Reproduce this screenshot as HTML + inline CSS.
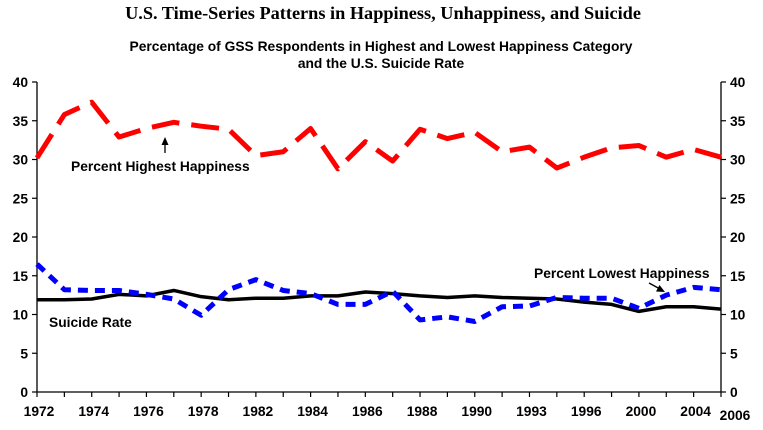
<!DOCTYPE html>
<html><head><meta charset="utf-8"><style>
body{margin:0;background:#fff;width:763px;height:425px;overflow:hidden}
svg text{font-family:"Liberation Sans",sans-serif;font-weight:bold;fill:#000}
</style></head><body>
<svg id="chart" width="763" height="425" xmlns="http://www.w3.org/2000/svg">
<text x="383" y="19" text-anchor="middle" style="font-family:'Liberation Serif',serif;font-size:18.3px">U.S. Time-Series Patterns in Happiness, Unhappiness, and Suicide</text>
<text x="381" y="51" text-anchor="middle" font-size="13.8">Percentage of GSS Respondents in Highest and Lowest Happiness Category</text>
<text x="381" y="68" text-anchor="middle" font-size="13.8">and the U.S. Suicide Rate</text>
<g id="axes"></g>
<g id="series"></g>
<text x="71" y="171" font-size="13.8">Percent Highest Happiness</text>
<line x1="165" y1="153" x2="165" y2="142" stroke="#000" stroke-width="1.3"/>
<polygon points="165,137 161.5,145 168.5,145" fill="#000"/>
<text x="49" y="327" font-size="13.8">Suicide Rate</text>
<text x="534" y="278" font-size="13.8">Percent Lowest Happiness</text>
<line x1="649" y1="283" x2="660" y2="289" stroke="#000" stroke-width="1.3"/>
<polygon points="665,292 656,291.5 659.5,285" fill="#000"/>
</svg>
<script>
const years=["1972","1973","1974","1975","1976","1977","1978","1980","1982","1983","1984","1985","1986","1987","1988","1989","1990","1991","1993","1994","1996","1998","2000","2002","2004","2006"];
const xLabels=["1972","1974","1976","1978","1982","1984","1986","1988","1990","1993","1996","2000","2004"];
const yTicks=[0,5,10,15,20,25,30,35,40];
const highest=[30.2,35.8,37.4,32.9,34.0,34.8,34.3,33.9,30.5,31.0,34.0,28.8,32.3,29.8,33.9,32.7,33.5,31.0,31.6,28.9,30.3,31.5,31.8,30.3,31.3,30.3];
const lowest=[16.5,13.2,13.1,13.1,12.6,12.0,9.9,13.2,14.5,13.1,12.7,11.3,11.3,13.0,9.3,9.7,9.1,11.0,11.1,12.2,12.1,12.1,10.8,12.5,13.5,13.2];
const suicide=[11.9,11.9,12.0,12.6,12.4,13.1,12.3,11.9,12.1,12.1,12.4,12.4,12.9,12.7,12.4,12.2,12.4,12.2,12.1,12.0,11.6,11.3,10.4,11.0,11.0,10.7];
const NS="http://www.w3.org/2000/svg";
const L=37,R=721,T=82,B=392;
const x=i=>L+(R-L)*i/(years.length-1);
const y=v=>B-(B-T)*v/40;
function mk(tag,attrs,parent){const e=document.createElementNS(NS,tag);for(const k in attrs)e.setAttribute(k,attrs[k]);parent.appendChild(e);return e;}
const ax=document.getElementById('axes');
let e=mk('line',{x1:L,y1:T,x2:L,y2:B,stroke:'#000','stroke-width':1.3},ax);


e=mk('line',{x1:R,y1:T,x2:R,y2:B,stroke:'#000','stroke-width':1.3},ax);


e=mk('line',{x1:L,y1:B,x2:R,y2:B,stroke:'#000','stroke-width':1.3},ax);


yTicks.forEach(v=>{
 e=mk('line',{x1:L-5,y1:y(v),x2:L,y2:y(v),stroke:'#000','stroke-width':1.2},ax);
 
 
 e=mk('line',{x1:R,y1:y(v),x2:R+5,y2:y(v),stroke:'#000','stroke-width':1.2},ax);
 
 
 e=mk('text',{x:L-9,y:y(v)+5,'text-anchor':'end','font-size':13.8},ax);e.textContent=v;
 
 
 e=mk('text',{x:R+9,y:y(v)+5,'font-size':13.8},ax);e.textContent=v;
 
 
});
years.forEach((yr,i)=>{
 e=mk('line',{x1:x(i),y1:B,x2:x(i),y2:B+5,stroke:'#000','stroke-width':1.2},ax);
 
 
 if(xLabels.includes(yr)){
  e=mk('text',{x:x(i)+2,y:416,'text-anchor':'middle','font-size':13.8},ax);e.textContent=yr;
  
  
 }
});
e=mk('text',{x:x(years.length-1)+14,y:420,'text-anchor':'middle','font-size':13.8},ax);e.textContent="2006";


const sg=document.getElementById('series');
function line(vals,color,w,dash,name){
 const p=mk('polyline',{points:vals.map((v,i)=>x(i)+','+y(v)).join(' '),fill:'none',stroke:color,'stroke-width':w,'stroke-dasharray':dash,'stroke-linejoin':'round'},sg);
 
 
}
line(suicide,'#000',3.5,'none','suicide-rate-line');
line(lowest,'#0000ff',5,'10 7','lowest-happiness-line');
line(highest,'#ff0000',5,'28 12','highest-happiness-line');
</script>
</body></html>
